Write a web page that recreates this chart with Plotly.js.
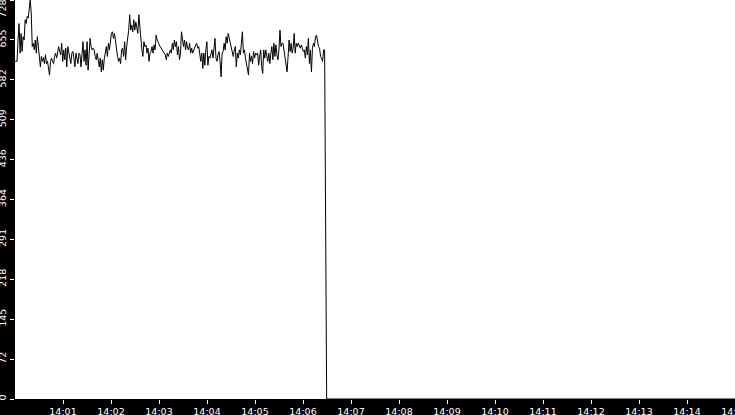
<!DOCTYPE html>
<html>
<head>
<meta charset="utf-8">
<script src="https://cdn.plot.ly/plotly-3.0.1.min.js"></script>
<style>
html,body{margin:0;padding:0;background:#000;}
#chart{width:735px;height:415px;}
</style>
</head>
<body>
<div id="chart"></div>
<script>
const startTime = "2024-01-01 14:00:00";
const endTime = "2024-01-01 14:15:00";
const sampleStepMs = 1269;

const values = [
  616, 616, 616, 655, 685, 631, 667, 634, 661, 655, 692, 685, 698, 695, 710, 728, 704, 643, 649, 637,
  655, 631, 661, 640, 619, 606, 625, 616, 623, 612, 628, 612, 616, 606, 591, 616, 622, 616, 612, 625,
  631, 622, 631, 643, 634, 628, 649, 616, 637, 619, 640, 606, 643, 634, 625, 612, 631, 634, 622, 606,
  631, 619, 612, 631, 628, 606, 634, 652, 616, 637, 609, 652, 600, 643, 658,
  643, 637, 640, 637, 625, 619, 631, 619, 606, 622, 597, 619, 600, 622, 634, 643, 625, 649, 637, 655,
  667, 670, 658, 667, 649, 631, 625, 616, 622, 612, 637, 640, 625, 652, 619, 643, 655, 673, 701, 673,
  682, 670, 692, 673, 688, 679, 667, 701, 673, 655, 637, 625, 652, 643, 646, 631, 640, 616, 631, 634,
  643, 631, 646, 637, 664, 655, 652, 646, 643, 640, 637, 634, 631, 628, 619, 631, 625, 634,
  637, 631, 649, 637, 655, 643, 652, 628, 643, 619, 631, 670, 649, 643, 655, 637, 652, 640, 637, 649,
  631, 640, 631, 637, 643, 646, 649, 640, 643, 622, 616, 631, 603, 631, 609, 637, 652, 609, 625, 622,
  628, 637, 622, 643, 658, 622, 616, 628, 634, 616, 588, 631, 634, 649, 637, 661, 649, 667, 658, 655,
  646, 634, 625, 637, 643, 606, 631, 622, 637, 628, 661, 670, 631, 637, 622, 612, 597, 591,
  631, 616, 625, 612, 634, 622, 631, 628, 631, 609, 625, 637, 606, 594, 637, 622, 637, 628, 616, 631,
  612, 631, 643, 619, 649, 625, 646, 628, 619, 637, 673, 643, 649, 649, 637, 622, 609, 597, 625, 655,
  634, 649, 631, 640, 667, 631, 649, 643, 649, 643, 640, 646, 637, 634, 637, 622, 643, 628, 658, 612,
  637, 597, 640, 649, 643, 661, 664, 649, 643, 640, 625, 622, 616, 637, 637,
  316, 0
];
const tailValue = 0;

const xTickVals = [
  "2024-01-01 14:01", "2024-01-01 14:02", "2024-01-01 14:03", "2024-01-01 14:04", "2024-01-01 14:05",
  "2024-01-01 14:06", "2024-01-01 14:07", "2024-01-01 14:08", "2024-01-01 14:09", "2024-01-01 14:10",
  "2024-01-01 14:11", "2024-01-01 14:12", "2024-01-01 14:13", "2024-01-01 14:14", "2024-01-01 14:15"
];
const xTickText = ["14:01", "14:02", "14:03", "14:04", "14:05", "14:06", "14:07", "14:08",
  "14:09", "14:10", "14:11", "14:12", "14:13", "14:14", "14:15"];

const yTickVals = [0, 72.8, 145.6, 218.4, 291.2, 364, 436.8, 509.6, 582.4, 655.2, 728];
const yTickText = ["0", "72", "145", "218", "291", "364", "436", "509", "582", "655", "728"];
const yMax = 728;

const t0 = new Date(startTime.replace(" ", "T")).getTime();
function fmt(ms) {
  const d = new Date(ms);
  const p = n => String(n).padStart(2, "0");
  return d.getFullYear() + "-" + p(d.getMonth() + 1) + "-" + p(d.getDate()) + " " +
    p(d.getHours()) + ":" + p(d.getMinutes()) + ":" + p(d.getSeconds()) + "." + String(d.getMilliseconds()).padStart(3, "0");
}
const xs = values.map((v, i) => fmt(t0 + i * sampleStepMs));
const ys = values.slice();
xs.push(endTime);
ys.push(tailValue);

const trace = {
  x: xs, y: ys, type: "scatter", mode: "lines",
  line: {color: "#000", width: 1}, hoverinfo: "skip"
};
// helper trace so the overlay axis (top label) is drawn
const helper = {
  x: [startTime, endTime], y: [0, 0], yaxis: "y2", type: "scatter", mode: "lines",
  line: {color: "rgba(0,0,0,0)", width: 0}, hoverinfo: "skip"
};

const font = {family: "DejaVu Sans, sans-serif", size: 9.5, color: "#fff"};

// the top label is shown on an overlay axis, shifted down so it fits
const mainText = yTickText.slice(0, -1).concat([""]);

const layout = {
  width: 735, height: 415,
  margin: {l: 15, r: 0, t: 0, b: 16, pad: 0},
  paper_bgcolor: "#000",
  plot_bgcolor: "#fff",
  showlegend: false,
  font: font,
  xaxis: {
    type: "date",
    range: [startTime, endTime],
    tickmode: "array", tickvals: xTickVals, ticktext: xTickText,
    ticks: "outside", ticklen: 4, tickwidth: 1, tickcolor: "#fff",
    tickfont: font,
    ticklabelstandoff: 0,
    ticklabeloverflow: "allow",
    showgrid: false, zeroline: false, showline: false
  },
  yaxis: {
    range: [0, yMax],
    tickmode: "array", tickvals: yTickVals, ticktext: mainText,
    tickangle: -90,
    ticks: "outside", ticklen: 4, tickwidth: 1, tickcolor: "#fff",
    tickfont: font,
    ticklabelstandoff: 0,
    ticklabeloverflow: "allow",
    showgrid: false, zeroline: false, showline: false
  },
  yaxis2: {
    overlaying: "y", side: "left",
    range: [0, yMax],
    tickmode: "array", tickvals: [yTickVals[yTickVals.length - 1]], ticktext: [yTickText[yTickText.length - 1]],
    tickangle: -90,
    ticks: "outside", ticklen: 4, tickwidth: 1, tickcolor: "rgba(0,0,0,0)",
    tickfont: font,
    ticklabelstandoff: 0,
    ticklabelshift: 10,
    ticklabeloverflow: "allow",
    showgrid: false, zeroline: false, showline: false
  }
};

Plotly.newPlot("chart", [trace, helper], layout, {staticPlot: true, displayModeBar: false});
</script>
</body>
</html>
